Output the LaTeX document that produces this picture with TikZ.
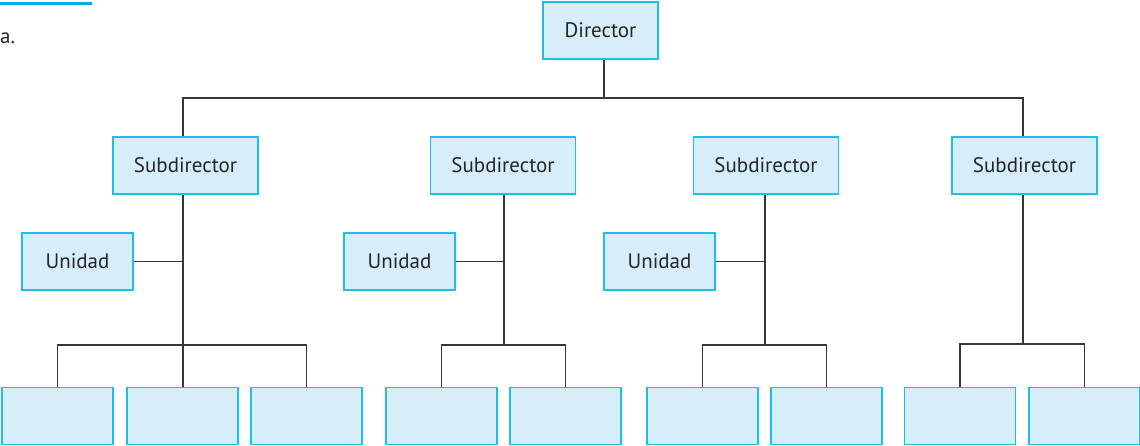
\documentclass[tikz,border=0pt]{standalone}
\usepackage{fontspec}
\setmainfont{PT Sans}
\definecolor{boxfill}{RGB}{214,237,250}
\definecolor{boxline}{RGB}{30,190,235}
\definecolor{rule}{RGB}{0,170,230}
\definecolor{wire}{RGB}{55,55,55}
\begin{document}
\begin{tikzpicture}[x=1pt,y=-1pt,
  orgbox/.style={draw=boxline,fill=boxfill,line width=1.3pt,inner sep=0pt,
    minimum height=57pt,font=\fontsize{21}{24}\selectfont,text=black!85},
  head/.style={orgbox,minimum width=115pt},
  sub/.style={orgbox,minimum width=145pt},
  unit/.style={orgbox,minimum width=111pt},
  leaf/.style={orgbox,minimum width=111pt},
  wire/.style={draw=wire,line width=1.4pt}]
\useasboundingbox (0,0) rectangle (1140,445);
% heading rule and label
\fill[rule] (0,1.5) rectangle (92,4.5);
\node[anchor=west,font=\fontsize{21}{24}\selectfont,text=black!85,inner sep=0pt] (lbl) at (0,38) {a.};
% boxes
\node[head] (dir) at (600.5,30.5) {Director};
\node[sub] (s1) at (185.5,165.5) {Subdirector};
\node[sub] (s2) at (503,165.5) {Subdirector};
\node[sub] (s3) at (766,165.5) {Subdirector};
\node[sub] (s4) at (1024.5,165.5) {Subdirector};
\node[unit] (u1) at (77.5,261.5) {Unidad};
\node[unit] (u2) at (399.5,261.5) {Unidad};
\node[unit] (u3) at (659.5,261.5) {Unidad};
\node[leaf] (a1) at (57.5,416) {};
\node[leaf] (a2) at (182.5,416) {};
\node[leaf] (a3) at (306.5,416) {};
\node[leaf] (b1) at (441.5,416) {};
\node[leaf] (b2) at (565.5,416) {};
\node[leaf] (c1) at (702.5,416) {};
\node[leaf] (c2) at (826.5,416) {};
\node[leaf] (d1) at (960,416) {};
\node[leaf] (d2) at (1084.5,416) {};
% junctions of the bus lines
\coordinate (top) at (604,98);
\coordinate (j1) at (183,345);
\coordinate (j2) at (504,345);
\coordinate (j3) at (765,345);
\coordinate (j4) at (1023,344);
% director to subdirectors
\draw[wire] (dir.south -| top) -- (top);
\draw[wire] (s1.north -| j1) |- (top) -| (s4.north -| j4);
\draw[wire] (s2.north -| j2) -- (s2.north -| j2 |- top);
\draw[wire] (s3.north -| j3) -- (s3.north -| j3 |- top);
% subdirectors down to their buses
\draw[wire] (s1.south -| j1) -- (a2.north -| j1);
\draw[wire] (s2.south -| j2) -- (j2);
\draw[wire] (s3.south -| j3) -- (j3);
\draw[wire] (s4.south -| j4) -- (j4);
% units on the side
\draw[wire] (u1.east) -- (u1.east -| j1);
\draw[wire] (u2.east) -- (u2.east -| j2);
\draw[wire] (u3.east) -- (u3.east -| j3);
% buses to the bottom boxes
\draw[wire] (a1.north) |- (j1) -| (a3.north);
\draw[wire] (b1.north) |- (j2) -| (b2.north);
\draw[wire] (c1.north) |- (j3) -| (c2.north);
\draw[wire] (d1.north) |- (j4) -| (d2.north);
\end{tikzpicture}
\end{document}
